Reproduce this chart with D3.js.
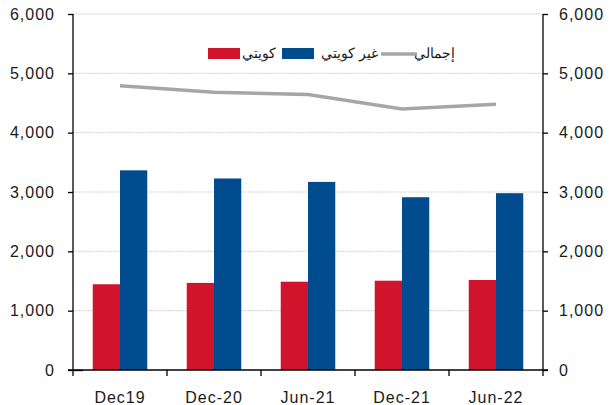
<!DOCTYPE html>
<html>
<head>
<meta charset="utf-8">
<script src="https://cdn.jsdelivr.net/npm/d3@7"></script>
<style>
  body { margin: 0; background: #fff; }
  text { font-family: "Liberation Sans", Arial, sans-serif; }
</style>
</head>
<body>
<div id="chart"></div>
<script>
var categories = ["Dec19", "Dec-20", "Jun-21", "Dec-21", "Jun-22"];
var kuwaiti = [1445, 1468, 1488, 1505, 1517];
var nonKuwaiti = [3365, 3228, 3170, 2912, 2980];
var total = [4790, 4680, 4645, 4398, 4478];
var yTicks = [0, 1000, 2000, 3000, 4000, 5000, 6000];

var W = 612, H = 405;
var margin = {top: 14, left: 73, right: 69, bottom: 35};

var svg = d3.select("#chart").append("svg")
    .attr("width", W).attr("height", H);

var x = d3.scaleBand().domain(categories)
    .range([margin.left, W - margin.right]);
var y = d3.scaleLinear().domain([0, 6000])
    .range([H - margin.bottom, margin.top]);

var x0 = margin.left, x1 = W - margin.right;
var barW = x.bandwidth() * 0.29;

// grid
svg.append("g").selectAll("line")
    .data(yTicks.filter(function(d) { return d > 0; }))
    .join("line")
    .attr("x1", x0).attr("x2", x1)
    .attr("y1", function(d) { return y(d); })
    .attr("y2", function(d) { return y(d); })
    .attr("stroke", "#bdbdbd")
    .attr("stroke-width", 0.8)
    .attr("stroke-dasharray", "1.5,1");

// bars
svg.append("g").selectAll("rect")
    .data(kuwaiti)
    .join("rect")
    .attr("x", function(d, i) { return x(categories[i]) + x.bandwidth() / 2 - barW; })
    .attr("y", function(d) { return y(d); })
    .attr("width", barW)
    .attr("height", function(d) { return y(0) - y(d); })
    .attr("fill", "#CF142B");

svg.append("g").selectAll("rect")
    .data(nonKuwaiti)
    .join("rect")
    .attr("x", function(d, i) { return x(categories[i]) + x.bandwidth() / 2; })
    .attr("y", function(d) { return y(d); })
    .attr("width", barW)
    .attr("height", function(d) { return y(0) - y(d); })
    .attr("fill", "#004C8E");

// total line
var line = d3.line()
    .x(function(d, i) { return x(categories[i]) + x.bandwidth() / 2; })
    .y(function(d) { return y(d); });

svg.append("path")
    .datum(total)
    .attr("d", line)
    .attr("fill", "none")
    .attr("stroke", "#A6A6A6")
    .attr("stroke-width", 3.5);

// axes
var fmt = d3.format(",");
var yLeft = svg.append("g")
    .attr("transform", "translate(" + x0 + ",0)")
    .call(d3.axisLeft(y).tickValues(yTicks).tickFormat(fmt).tickSize(5).tickPadding(13));
var yRight = svg.append("g")
    .attr("transform", "translate(" + x1 + ",0)")
    .call(d3.axisRight(y).tickValues(yTicks).tickFormat(fmt).tickSize(5).tickPadding(11));
var xAxis = svg.append("g")
    .attr("transform", "translate(0," + y(0) + ")")
    .call(d3.axisBottom(x).tickSize(0).tickPadding(22));

// category boundary ticks
svg.append("g").selectAll("line")
    .data(categories.concat(["end"]))
    .join("line")
    .attr("x1", function(d, i) { return x0 + i * x.step(); })
    .attr("x2", function(d, i) { return x0 + i * x.step(); })
    .attr("y1", y(0)).attr("y2", y(0) + 6)
    .attr("stroke", "#000").attr("stroke-width", 1.3);

[yLeft, yRight, xAxis].forEach(function(g) {
  g.select(".domain").attr("stroke", "#000").attr("stroke-width", 1.3);
  g.selectAll(".tick line").attr("stroke", "#000").attr("stroke-width", 1.3);
  g.selectAll("text")
    .attr("font-size", 16)
    .attr("letter-spacing", 1)
    .attr("fill", "#1a1a1a");
});
yLeft.select(".domain").attr("d", "M0," + y(6000) + "V" + y(0));
yRight.select(".domain").attr("d", "M0," + y(6000) + "V" + y(0));
xAxis.select(".domain").attr("d", "M" + (x0 - 5) + ",0H" + (x1 + 5));
yLeft.selectAll(".tick").filter(function(d) { return d === 0; })
  .select("line").attr("x2", 10).attr("x1", -5);

// legend
var legend = svg.append("g").attr("font-size", 14).attr("fill", "#1a1a1a");
legend.append("rect").attr("x", 208).attr("y", 48).attr("width", 32).attr("height", 11).attr("fill", "#CF142B");
legend.append("text").attr("x", 276).attr("y", 58).attr("text-anchor", "end").text("كويتي");
legend.append("rect").attr("x", 282).attr("y", 48).attr("width", 32).attr("height", 11).attr("fill", "#004C8E");
legend.append("text").attr("x", 378).attr("y", 58).attr("text-anchor", "end").text("غير كويتي");
legend.append("line").attr("x1", 381).attr("x2", 417).attr("y1", 54).attr("y2", 54).attr("stroke", "#A6A6A6").attr("stroke-width", 3.5);
legend.append("text").attr("x", 455).attr("y", 58).attr("text-anchor", "end").text("إجمالي");
</script>
</body>
</html>
